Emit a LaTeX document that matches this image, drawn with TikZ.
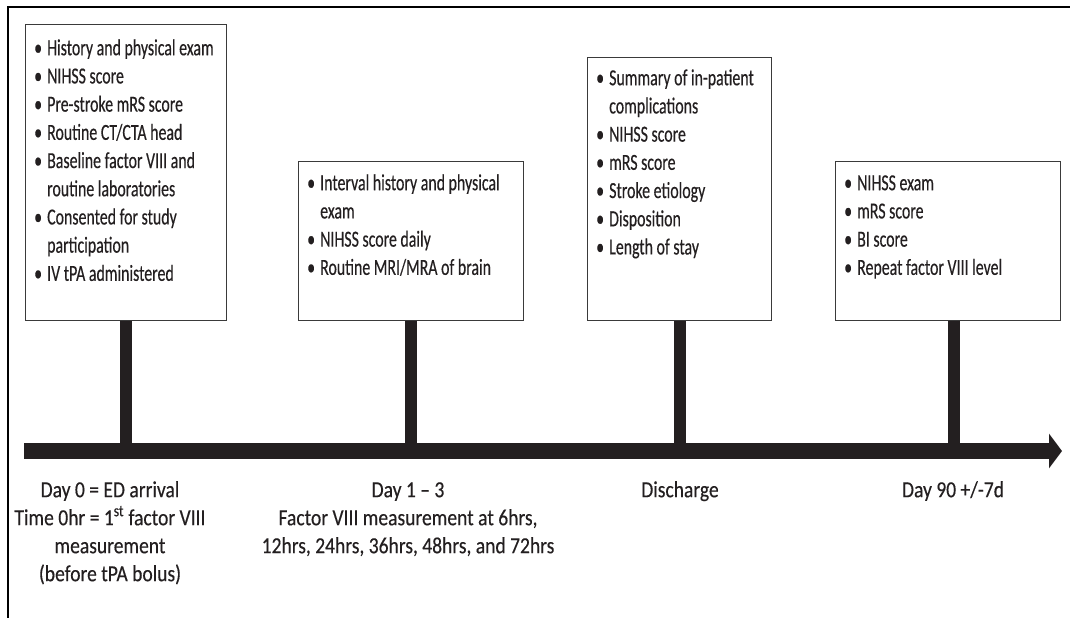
\documentclass[tikz,border=0pt]{standalone}
\usepackage{fontspec}
\newfontfamily\boxfont{Carlito}[FakeStretch=0.69,FakeBold=0.35]
\newfontfamily\labfont{Carlito}[FakeStretch=0.85,FakeBold=0.35]
\usetikzlibrary{arrows.meta,calc}
\definecolor{ink}{HTML}{231F20}
\definecolor{boxline}{HTML}{3A3A3A}
\newcommand\bul{\strut\makebox[13pt][l]{•}}
\newcommand\cnt{\strut\hspace*{13pt}}
\begin{document}
\begin{tikzpicture}[x=1pt,y=-1pt,
  box/.style={draw=boxline, line width=1.3pt, anchor=north west, inner sep=0pt},
  btext/.style={anchor=north west, inner sep=0pt, align=left, text=ink,
    font=\boxfont\fontsize{23}{28.2}\selectfont},
  lab/.style={anchor=north, inner sep=0pt, align=center, text=ink,
    font=\labfont\fontsize{23}{28}\selectfont},
  stem/.style={draw=ink, line width=12pt},
  frameline/.style={draw=black, line width=2.7pt, line join=miter},
  timebar/.style={draw=ink, line width=16pt, -{Triangle[width=34pt,length=13pt]}}]
\useasboundingbox (0,0) rectangle (1070,618);
% outer frame (top and left edges)
\draw[frameline] (1070,7) -- (8,7) -- (8,618);
% boxes
\node[box, minimum width=201pt, minimum height=296pt] (b1) at (25,24) {};
\node[box, minimum width=225pt, minimum height=159pt] (b2) at (298,161) {};
\node[box, minimum width=184pt, minimum height=263pt] (b3) at (587,57) {};
\node[box, minimum width=225pt, minimum height=159pt] (b4) at (835,161) {};
% box texts
\node[btext] (t1) at ($(b1.north west)+(9,11.3)$) {%
\bul History and physical exam\\
\bul NIHSS score\\
\bul Pre-stroke mRS score\\
\bul Routine CT/CTA head\\
\bul Baseline factor VIII and\\
\cnt routine laboratories\\
\bul Consented for study\\
\cnt participation\\
\bul IV tPA administered};
\node[btext] (t2) at ($(b2.north west)+(9,9.3)$) {%
\bul Interval history and physical\\
\cnt exam\\
\bul NIHSS score daily\\
\bul Routine MRI/MRA of brain};
\node[btext] (t3) at ($(b3.north west)+(9,8.3)$) {%
\bul Summary of in-patient\\
\cnt complications\\
\bul NIHSS score\\
\bul mRS score\\
\bul Stroke etiology\\
\bul Disposition\\
\bul Length of stay};
\node[btext] (t4) at ($(b4.north west)+(9,9.3)$) {%
\bul NIHSS exam\\
\bul mRS score\\
\bul BI score\\
\bul Repeat factor VIII level};
% timeline
\coordinate (bs) at (24,451);
\coordinate (be) at (1062,451);
\draw[stem] (b1.south) -- (b1.south |- bs);
\draw[stem] (b2.south) -- (b2.south |- bs);
\draw[stem] (b3.south) -- (b3.south |- bs);
\draw[stem] ($(b4.south)+(5.5,0)$) -- ($(b4.south |- bs)+(5.5,0)$);
\draw[timebar] (bs) -- (be);
% labels
\node[lab] (l1) at (110,477.4) {\strut Day 0 = ED arrival\\
Time 0hr = 1\textsuperscript{st} factor VIII\\
measurement\\
(before tPA bolus)};
\node[lab] (l2) at (408,477.4) {\strut Day 1 – 3\\
Factor VIII measurement at 6hrs,\\
12hrs, 24hrs, 36hrs, 48hrs, and 72hrs};
\node[lab] (l3) at (680,477.4) {\strut Discharge};
\node[lab] (l4) at (953,477.4) {\strut Day 90 +/-7d};
\end{tikzpicture}
\end{document}
